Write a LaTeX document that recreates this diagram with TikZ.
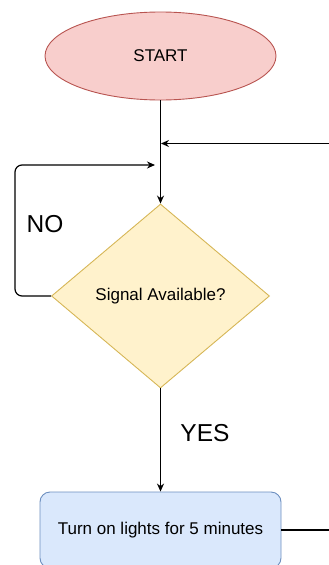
\documentclass[tikz,border=0pt]{standalone}
\usepackage{fontspec}
\setmainfont{Liberation Sans}
\usetikzlibrary{shapes.geometric, arrows.meta}

\definecolor{startfill}{HTML}{F8CECC}
\definecolor{startline}{HTML}{B85450}
\definecolor{askfill}{HTML}{FFF2CC}
\definecolor{askline}{HTML}{D6B656}
\definecolor{actfill}{HTML}{DAE8FC}
\definecolor{actline}{HTML}{6C8EBF}

\tikzset{
    terminal/.style={ellipse, draw=startline, fill=startfill, line width=0.9pt,
        minimum width=231pt, minimum height=88pt, inner sep=0pt,
        font=\fontsize{17}{20}\selectfont},
    decision/.style={diamond, draw=askline, fill=askfill, line width=0.9pt,
        minimum width=218pt, minimum height=184pt, inner sep=0pt,
        font=\fontsize{17}{20}\selectfont},
    process/.style={rectangle, rounded corners=10pt, draw=actline, fill=actfill,
        line width=0.9pt, minimum width=241pt, minimum height=76pt, inner sep=0pt,
        font=\fontsize{17}{20}\selectfont},
    answer/.style={font=\fontsize{24.5}{28}\selectfont, inner sep=0pt},
    flow/.style={line width=1.2pt, >={Stealth[length=8pt, width=7pt]}}
}

\begin{document}
\begin{tikzpicture}[x=1pt, y=1pt]

        \useasboundingbox (0,0) rectangle (329,-565);

        \node[terminal] (start) at (160.5,-56) {START};

        \node[decision] (signal) at (160.5,-296) {Signal Available?};

        \node[process] (lights) at (160.5,-530) {Turn on lights for 5 minutes};

        \node[answer] (no) at (45,-224) {NO};

        \node[answer] (yes) at (205,-433) {YES};

        \coordinate (back) at (329,-143.5);
        \coordinate (join) at (161,-143.5);
        \coordinate (corner) at (15,-165);
        \coordinate (merge) at (155,-165);
        \coordinate (out) at (329,-530);

        \draw[flow, ->]
            (start) -- (signal);

        \draw[flow, ->]
            (back) -- (join);

        \draw[flow, ->, rounded corners=7pt]
            (signal.west) -| (corner) -- (merge);

        \draw[flow, ->]
            (signal) -- (lights);

        \draw[flow]
            (lights) -- (out);

\end{tikzpicture}
\end{document}
